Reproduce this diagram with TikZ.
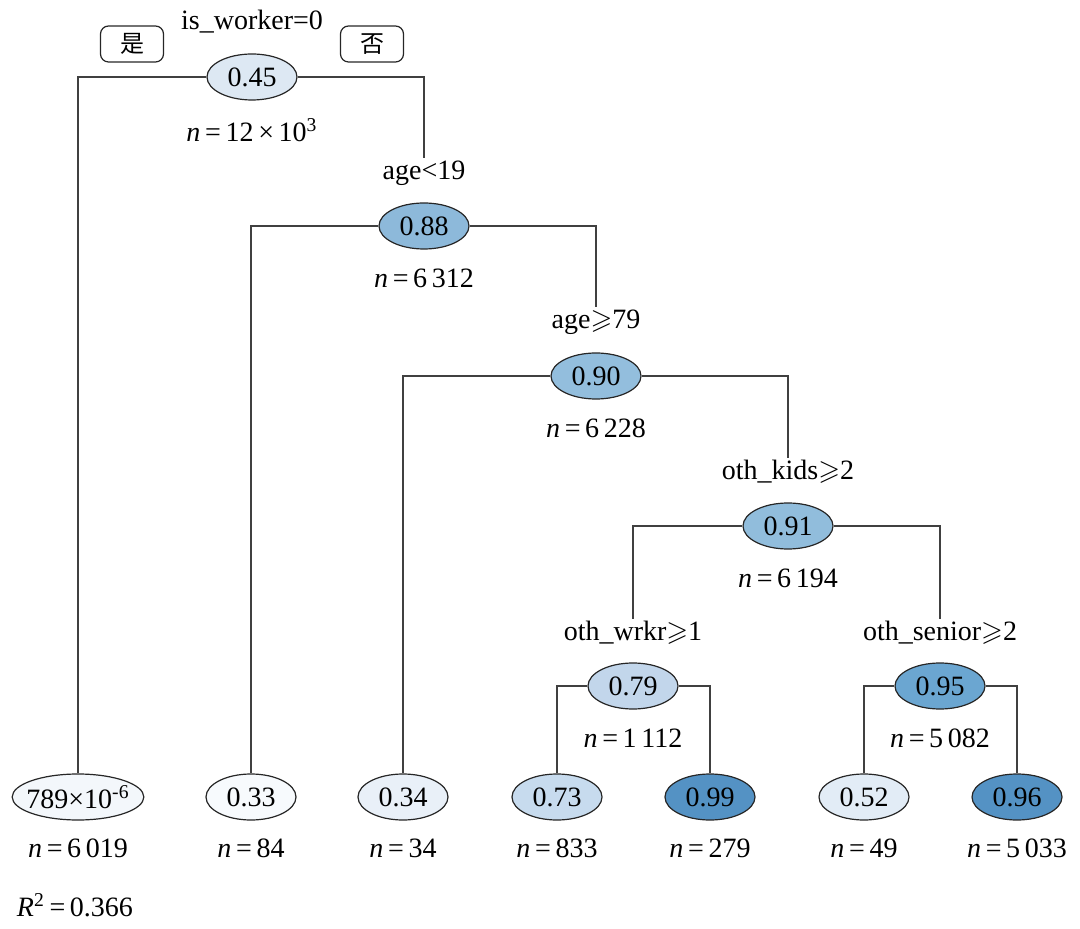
\documentclass[tikz,border=0pt]{standalone}
\usepackage{amsmath, amssymb}
\usepackage{fontspec}
\setmainfont{Liberation Serif}
\newfontfamily\cjk{Noto Sans CJK SC}
\usetikzlibrary{shapes.geometric}

\definecolor{cA}{HTML}{DDE8F3}
\definecolor{cB}{HTML}{8DB9DA}
\definecolor{cC}{HTML}{93BEDD}
\definecolor{cD}{HTML}{91BDDC}
\definecolor{cE}{HTML}{C2D6EB}
\definecolor{cF}{HTML}{6BA6D1}
\definecolor{lA}{HTML}{F3F7FB}
\definecolor{lB}{HTML}{F7FAFD}
\definecolor{lC}{HTML}{E9F0F8}
\definecolor{lD}{HTML}{C7DBEE}
\definecolor{lE}{HTML}{5492C4}
\definecolor{lF}{HTML}{E2ECF6}
\definecolor{lG}{HTML}{5492C4}

\tikzset{
  split/.style={ellipse, draw=black!85, line width=0.6pt, minimum width=45pt, minimum height=23pt, inner sep=0pt, font=\fontsize{14}{16}\selectfont},
  cond/.style={inner sep=1pt, font=\fontsize{14}{16}\selectfont},
  count/.style={inner sep=1pt, font=\fontsize{14}{16}\selectfont},
  yesno/.style={draw=black!85, line width=0.6pt, rounded corners=4pt, minimum width=31.5pt, minimum height=18pt, inner sep=0pt, font=\cjk\fontsize{12}{14}\selectfont},
  branch/.style={draw=black!75, line width=0.6pt},
}

\begin{document}
\begin{tikzpicture}[x=0.5pt, y=-0.5pt]
    \useasboundingbox (0,0) rectangle (1080,929);

    % Nodes
    \node[split, fill=cA] (N0) at (252,77) {0.45};
    \node[cond] (N0c) at (252,22) {is\_worker=0};
    \node[count] (N0n) at (252,130) {\textit{n}\,=\,12\,×\,10\textsuperscript{3}};
    \node[yesno] (Yes) at (132,44) {是};
    \node[yesno] (No) at (372,44) {否};

    \node[split, fill=cB] (N1) at (424,226) {0.88};
    \node[cond] (N1c) at (424,173) {age<19};
    \node[count] (N1n) at (424,278) {\textit{n}\,=\,6\,312};

    \node[split, fill=cC] (N2) at (596,376) {0.90};
    \node[cond] (N2c) at (596,322) {age$\geqslant$79};
    \node[count] (N2n) at (596,428) {\textit{n}\,=\,6\,228};

    \node[split, fill=cD] (N3) at (788,526) {0.91};
    \node[cond] (N3c) at (788,472) {oth\_kids$\geqslant$2};
    \node[count] (N3n) at (788,578) {\textit{n}\,=\,6\,194};

    \node[split, fill=cE] (N4) at (633,686) {0.79};
    \node[cond] (N4c) at (633,633) {oth\_wrkr$\geqslant$1};
    \node[count] (N4n) at (633,738) {\textit{n}\,=\,1\,112};

    \node[split, fill=cF] (N5) at (940,686) {0.95};
    \node[cond] (N5c) at (940,633) {oth\_senior$\geqslant$2};
    \node[count] (N5n) at (940,738) {\textit{n}\,=\,5\,082};

    % Leaves
    \node[split, fill=lA, inner xsep=-2.5pt] (L0) at (78,797) {789×10\textsuperscript{-6}};
    \node[split, fill=lB] (L1) at (251,797) {0.33};
    \node[split, fill=lC] (L2) at (403,797) {0.34};
    \node[split, fill=lD] (L3) at (557,797) {0.73};
    \node[split, fill=lE] (L4) at (710,797) {0.99};
    \node[split, fill=lF] (L5) at (864,797) {0.52};
    \node[split, fill=lG] (L6) at (1017,797) {0.96};

    \node[count] (L0n) at (78,848) {\textit{n}\,=\,6\,019};
    \node[count] (L1n) at (251,848) {\textit{n}\,=\,84};
    \node[count] (L2n) at (403,848) {\textit{n}\,=\,34};
    \node[count] (L3n) at (557,848) {\textit{n}\,=\,833};
    \node[count] (L4n) at (710,848) {\textit{n}\,=\,279};
    \node[count] (L5n) at (864,848) {\textit{n}\,=\,49};
    \node[count] (L6n) at (1017,848) {\textit{n}\,=\,5\,033};

    \node[count] (R2) at (75,905) {\textit{R}\textsuperscript{2}\,=\,0.366};

    % Edges
    \draw[branch] (N0.west) -| (L0.north);
    \draw[branch] (N0.east) -| (N1c.north);
    \draw[branch] (N1.west) -| (L1.north);
    \draw[branch] (N1.east) -| (N2c.north);
    \draw[branch] (N2.west) -| (L2.north);
    \draw[branch] (N2.east) -| (N3c.north);
    \draw[branch] (N3.west) -| (N4c.north);
    \draw[branch] (N3.east) -| (N5c.north);
    \draw[branch] (N4.west) -| (L3.north);
    \draw[branch] (N4.east) -| (L4.north);
    \draw[branch] (N5.west) -| (L5.north);
    \draw[branch] (N5.east) -| (L6.north);
\end{tikzpicture}
\end{document}
